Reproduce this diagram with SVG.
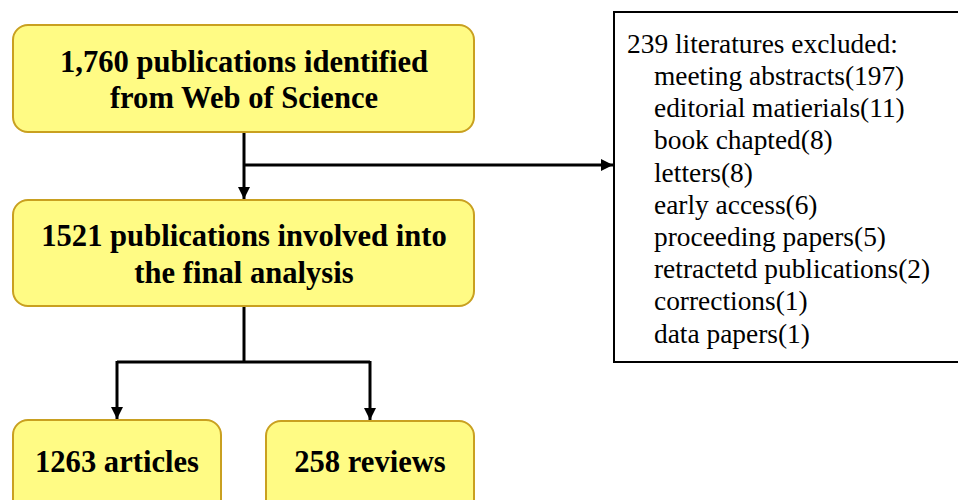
<svg xmlns="http://www.w3.org/2000/svg" width="958" height="500" viewBox="0 0 958 500">
<style>
.nb{fill:#FFFB84;stroke:#C9A020;stroke-width:2}
.bt{font-family:"Liberation Serif","Times New Roman",serif;font-weight:bold;font-size:30.6px;fill:#000;text-anchor:middle}
.lt{font-family:"Liberation Serif","Times New Roman",serif;font-size:27.4px;fill:#000}
.cn{fill:none;stroke:#000;stroke-width:3}
</style>
<defs>
<marker id="ah" viewBox="0 0 12 12" refX="12" refY="6" markerWidth="12" markerHeight="12" markerUnits="userSpaceOnUse" orient="auto">
<path d="M0,0 L12,6 L0,12 z" fill="#000"/>
</marker>
</defs>
<g id="connectors">
<path class="cn" d="M244,132 V199" marker-end="url(#ah)"/>
<path class="cn" d="M244,165 H613" marker-end="url(#ah)"/>
<path class="cn" d="M244,306 V362"/>
<path class="cn" d="M117,362 H370"/>
<path class="cn" d="M117,361 V419" marker-end="url(#ah)"/>
<path class="cn" d="M370,361 V420" marker-end="url(#ah)"/>
</g>
<g id="node-identified">
<rect class="nb" x="13" y="25" width="461" height="107" rx="15"/>
<text class="bt" x="244" y="72">1,760 publications identified</text>
<text class="bt" x="244" y="108">from Web of Science</text>
</g>
<g id="node-final">
<rect class="nb" x="13" y="200" width="461" height="106" rx="15"/>
<text class="bt" x="244" y="246">1521 publications involved into</text>
<text class="bt" x="244" y="283">the final analysis</text>
</g>
<g id="node-articles">
<rect class="nb" x="13" y="420" width="208" height="95" rx="15"/>
<text class="bt" x="117" y="472">1263 articles</text>
</g>
<g id="node-reviews">
<rect class="nb" x="266" y="421" width="208" height="95" rx="15"/>
<text class="bt" x="370" y="472">258 reviews</text>
</g>
<g id="node-excluded">
<rect x="614" y="12" width="360" height="350" fill="#fff" stroke="#000" stroke-width="2"/>
<text class="lt" x="627" y="53">239 literatures excluded:</text>
<text class="lt" x="654" y="85">meeting abstracts(197)</text>
<text class="lt" x="654" y="117">editorial matierials(11)</text>
<text class="lt" x="654" y="149">book chapted(8)</text>
<text class="lt" x="654" y="182">letters(8)</text>
<text class="lt" x="654" y="214">early access(6)</text>
<text class="lt" x="654" y="246">proceeding papers(5)</text>
<text class="lt" x="654" y="278">retractetd publications(2)</text>
<text class="lt" x="654" y="310">corrections(1)</text>
<text class="lt" x="654" y="343">data papers(1)</text>
</g>
</svg>
